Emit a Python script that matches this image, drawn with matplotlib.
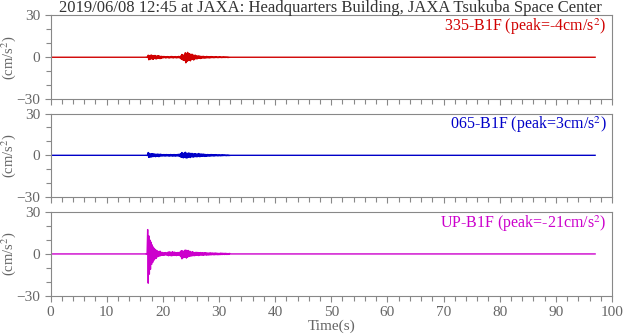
import numpy as np
import matplotlib
matplotlib.use("Agg")
import matplotlib.pyplot as plt

# strong-motion record, 3 channels, sampled every 0.1 s inside the active window
title = "2019/06/08 12:45 at JAXA: Headquarters Building, JAXA Tsukuba Space Center"
channels = ["335-B1F", "065-B1F", "UP-B1F"]
peaks = [-4, 3, -21]
colors = ["#d00000", "#0000c8", "#cc00cc"]

win_start = 17.0   # s, first sample of the typed window
win_step = 0.1     # s
rec_end = 97.0     # s, end of record

ns_vals = [
    0.1, -0.1, 0.2, -0.2, 1.5, -1.8, 1.2, -1.6, 1.4, -1.0,
    1.6, -1.3, 1.0, -1.5, 1.2, -0.9, 1.3, -1.1, 0.8, -1.2,
    1.0, -0.8, 1.1, -0.7, 0.9, -1.0, 0.6, -0.8, 0.7, -0.5,
    0.5, -0.4, 0.6, -0.3, 0.4, -0.5, 0.3, -0.4, 0.5, -0.3,
    0.4, -0.6, 0.3, -0.4, 0.5, -0.3, 0.6, -0.4, 0.3, -0.5,
    0.4, -0.3, 0.5, -0.4, 0.3, -0.5, 0.4, -0.3, 0.6, -0.4,
    0.5, -0.6, 1.0, -1.4, 2.0, -1.8, 1.5, -2.2, 1.6, -2.4,
    3.2, -4.0, 2.6, -3.0, 3.5, -2.4, 2.8, -2.0, 2.4, -2.6,
    2.0, -1.8, 2.2, -1.5, 1.6, -2.0, 1.4, -1.2, 1.5, -1.1,
    1.0, -1.2, 0.9, -0.8, 1.0, -0.7, 0.8, -0.9, 0.6, -0.7,
    0.6, -0.5, 0.7, -0.6, 0.5, -0.6, 0.4, -0.5, 0.6, -0.4,
    0.5, -0.4, 0.4, -0.5, 0.3, -0.4, 0.5, -0.3, 0.4, -0.3,
    0.3, -0.4, 0.3, -0.3, 0.4, -0.2, 0.3, -0.3, 0.2, -0.3,
    0.3, -0.2, 0.3, -0.2, 0.2, -0.3, 0.2, -0.2, 0.3, -0.2,
    0.2, -0.2, 0.2, -0.1, 0.2, -0.2, 0.1, -0.2, 0.1, -0.1,
]
ew_vals = [
    0.1, -0.1, 0.1, -0.2, 2.0, -1.5, 1.4, -1.2, 1.0, -1.3,
    1.2, -1.0, 1.1, -0.9, 1.0, -0.8, 0.9, -1.0, 0.7, -0.8,
    0.9, -0.7, 0.8, -1.0, 0.7, -0.6, 0.8, -0.5, 0.6, -0.5,
    0.5, -0.4, 0.6, -0.5, 0.4, -0.5, 0.6, -0.4, 0.5, -0.4,
    0.5, -0.6, 0.4, -0.5, 0.6, -0.4, 0.5, -0.6, 0.4, -0.5,
    0.6, -0.5, 0.4, -0.6, 0.5, -0.4, 0.6, -0.5, 0.7, -0.6,
    0.8, -1.0, 1.2, -1.5, 2.0, -1.6, 1.4, -1.8, 1.5, -1.3,
    2.2, -1.8, 1.6, -2.0, 1.4, -1.5, 1.7, -1.2, 1.5, -1.6,
    1.3, -1.1, 1.4, -1.2, 1.0, -1.3, 1.1, -0.9, 1.2, -1.0,
    0.9, -1.1, 1.0, -0.8, 1.3, -1.0, 0.8, -0.9, 1.0, -0.7,
    0.8, -0.7, 0.9, -0.6, 0.7, -0.8, 0.6, -0.7, 0.5, -0.6,
    0.6, -0.5, 0.5, -0.6, 0.4, -0.5, 0.6, -0.4, 0.5, -0.4,
    0.4, -0.5, 0.4, -0.4, 0.5, -0.3, 0.4, -0.4, 0.3, -0.4,
    0.4, -0.3, 0.3, -0.4, 0.3, -0.3, 0.4, -0.3, 0.3, -0.2,
    0.3, -0.2, 0.2, -0.3, 0.2, -0.2, 0.2, -0.2, 0.1, -0.2,
]
ud_vals = [
    0.2, -0.3, 0.5, 17.5, -21.0, 13.0, -14.5, 10.0, -11.0, 8.5,
    -7.5, 6.5, -6.0, 5.0, -4.5, 4.0, -3.5, 3.0, -3.2, 2.5,
    -2.2, 2.0, -1.8, 1.6, -1.5, 2.0, -1.3, 1.2, -1.0, 1.1,
    -0.9, 0.8, -1.0, 0.9, -0.7, 1.0, -0.8, 0.7, -0.9, 1.2,
    -1.3, 1.5, -1.1, 1.4, -1.2, 1.0, -1.4, 1.6, -1.0, 1.2,
    -1.1, 1.3, -0.9, 1.0, -1.2, 0.8, -1.0, 1.1, -0.9, 1.0,
    -1.2, 1.5, -2.0, 2.4, -3.5, 2.2, -2.8, 1.9, -2.5, 2.6,
    -2.2, 2.8, -3.0, 2.0, -2.4, 2.5, -1.8, 2.0, -1.6, 1.8,
    -1.5, 1.3, -1.4, 1.6, -1.2, 1.1, -1.3, 1.0, -1.1, 1.2,
    -1.0, 1.1, -0.9, 1.0, -1.2, 0.9, -0.8, 1.0, -0.9, 0.8,
    -0.8, 0.9, -1.0, 0.7, -0.8, 0.9, -0.7, 0.8, -0.9, 0.7,
    -0.7, 0.6, -0.8, 0.7, -0.6, 0.8, -0.7, 0.6, -0.5, 0.7,
    -0.6, 0.5, -0.6, 0.7, -0.5, 0.6, -0.5, 0.5, -0.6, 0.4,
    -0.5, 0.4, -0.5, 0.6, -0.4, 0.5, -0.4, 0.5, -0.3, 0.4,
    -0.4, 0.5, -0.3, 0.4, -0.4, 0.3, -0.4, 0.3, -0.3, 0.4,
]
series = [ns_vals, ew_vals, ud_vals]

plt.rcParams['font.family'] = ['Liberation Serif', 'DejaVu Serif']
plt.rcParams['mathtext.fontset'] = 'stix'

fig = plt.figure(figsize=(6.24, 3.34), dpi=100)
left, width, height = 0.081, 0.8997, 0.25
bottoms = [0.7036, 0.410, 0.1147]

gray = "#666666"
for i, (name, pk, col, vals) in enumerate(zip(channels, peaks, colors, series)):
    ax = fig.add_axes([left, bottoms[i], width, height])
    t_win = win_start + win_step * np.arange(len(vals))
    t = np.concatenate([[0.0, win_start - win_step], t_win, [t_win[-1] + win_step, rec_end]])
    v = np.concatenate([[0.0, 0.0], vals, [0.0, 0.0]])
    ax.plot(t, v, color=col, lw=1.0)
    ax.set_xlim(0, 100)
    ax.set_ylim(-30, 30)
    ax.set_yticks([-30, 0, 30])
    ax.set_yticks([-20, -10, 10, 20], minor=True)
    ax.set_xticks(np.arange(0, 101, 10))
    ax.set_xticks(np.arange(0, 101, 2), minor=True)
    ax.tick_params(which='both', direction='out', colors="#888888", labelcolor=gray,
                   labelsize=11, width=0.8)
    ax.tick_params(which='major', length=4)
    ax.tick_params(which='minor', length=3.5)
    for s in ax.spines.values():
        s.set_color("#888888")
        s.set_linewidth(0.8)
    if i < 2:
        ax.set_xticklabels([])
    else:
        ax.set_xlabel("Time(s)", color=gray, fontsize=11, labelpad=0)
    ax.set_ylabel("(cm/s$^2$)", color=gray, fontsize=10.5)
    ax.yaxis.set_label_coords(-0.058, 0.5)
    ax.text(0.99, 0.985, f"{name} (peak={pk}cm/s$^2$)", transform=ax.transAxes,
            ha='right', va='top', color=col, fontsize=11.5)

fig.text(0.53, 0.976, title, ha='center', va='center', color="#333333", fontsize=12)

fig.savefig("out.png", dpi=100)
